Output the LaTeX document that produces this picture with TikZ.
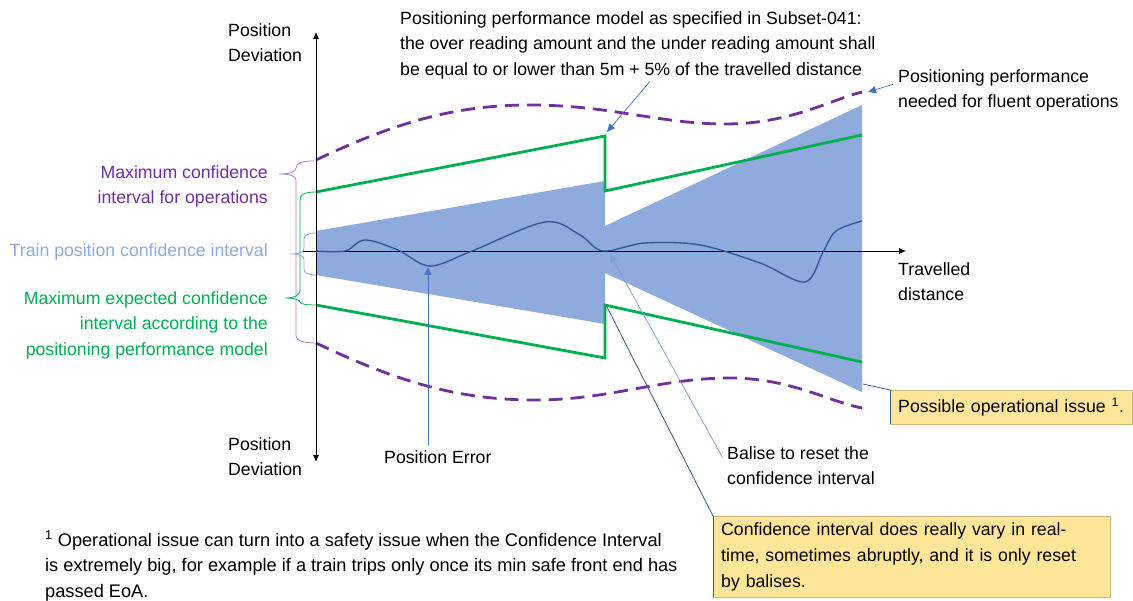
\documentclass[tikz,border=0pt]{standalone}
\usepackage{fontspec}
\setmainfont{Liberation Sans}
\usetikzlibrary{arrows.meta, positioning}

\definecolor{cifill}{HTML}{8FAADC}
\definecolor{perfgreen}{HTML}{00B050}
\definecolor{opspurple}{HTML}{7030A0}
\definecolor{errblue}{HTML}{2F5597}
\definecolor{arrowblue}{HTML}{4472C4}
\definecolor{barblue}{HTML}{3B5487}
\definecolor{notefill}{HTML}{FFE699}

\begin{document}
\begin{tikzpicture}[x=1pt, y=-1pt,
        txt/.style={font=\fontsize{17.7}{25.8}\selectfont, inner sep=0pt, align=left},
        perf/.style={draw=perfgreen, line width=2.8pt},
        ops/.style={draw=opspurple, line width=2.8pt, dash pattern=on 14pt off 8pt},
        brace/.style={line width=0.8pt},
        axis/.style={line width=0.8pt},
        callout/.style={draw=arrowblue, line width=0.7pt, -{Triangle[length=8pt, width=7pt]}},
        note/.style={txt, fill=notefill, draw=notefill!80!black, line width=0.4pt, inner xsep=8pt, inner ysep=5pt, anchor=north west}]
        \useasboundingbox (0,0) rectangle (1133,601);

        \fill[cifill] (316,231) -- (605,181) -- (605,324) -- (316,275) -- cycle;
        \fill[cifill] (605,226) -- (862,105) -- (862,392) -- (605,273) -- cycle;

        \draw[perf] (316,192) -- (605,136) -- (605,191) -- (862,135);
        \draw[perf] (316,305) -- (605,358) -- (605,305) -- (862,362);

        \draw[ops] (316,160) .. controls (400,120) and (460,105) .. (530,105) .. controls (610,105) and (660,124) .. (725,124) .. controls (790,124) and (830,100) .. (862,92);
        \draw[ops] (316,343) .. controls (400,383) and (460,400) .. (535,400) .. controls (610,400) and (660,378) .. (730,378) .. controls (790,378) and (830,402) .. (862,408);

        \draw[axis, -{Latex[length=7pt, width=6pt]}] (303,251) -- (906,251);
        \draw[axis, {Latex[length=7pt, width=6pt]}-{Latex[length=7pt, width=6pt]}] (316,462) -- (316,32);

        \draw[errblue, line width=1.3pt] plot[smooth, tension=0.55] coordinates {(316,251) (345,251) (365,240) (398,250) (430,266) (472,251) (545,222) (580,235) (603,251) (645,243) (700,245) (760,263) (805,282) (823,252) (836,231) (862,221)};

        \draw[brace, opspurple!60] (314,161) .. controls (302,161) and (296,163) .. (296,168) .. controls (296,172) and (290,174) .. (279,174) .. controls (290,174) and (296,176) .. (296,180) -- (296,336) .. controls (296,340) and (302,343) .. (316,343);
        \draw[brace, perfgreen] (316,192) .. controls (304,192) and (300,195) .. (300,200) -- (300,290) .. controls (300,295) and (295,298) .. (285,298) .. controls (295,298) and (300,300) .. (300,302) .. controls (300,304) and (306,305) .. (316,305);
        \draw[brace, cifill] (316,233) .. controls (308,233) and (304,235) .. (304,239) -- (304,248) .. controls (304,252) and (300,254) .. (290,254) .. controls (300,254) and (304,256) .. (304,260) -- (304,269) .. controls (304,273) and (308,275) .. (316,275);

        \node[txt, anchor=north west] (ytop) at (228,23) {Position\\Deviation};
        \node[txt, anchor=north west] (ybot) at (228,437) {Position\\Deviation};
        \node[txt, anchor=north west] (xlbl) at (898,262) {Travelled\\distance};
        \node[txt, anchor=north west] (model) at (400,11) {Positioning performance model as specified in Subset-041:\\the over reading amount and the under reading amount shall\\be equal to or lower than 5m + 5\% of the travelled distance};
        \node[txt, anchor=north west] (fluent) at (898,69) {Positioning performance\\needed for fluent operations};
        \node[txt, anchor=north west] (perr) at (384,450) {Position Error};
        \node[txt, anchor=north west] (balise) at (727,446) {Balise to reset the\\confidence interval};
        \node[txt, anchor=north east, align=right, text=opspurple] (opslbl) at (268,165) {Maximum confidence\\interval for operations};
        \node[txt, anchor=north east, align=right, text=cifill] (cilbl) at (268,243) {Train position confidence interval};
        \node[txt, anchor=north east, align=right, text=perfgreen] (perflbl) at (268,291) {Maximum expected confidence\\interval according to the\\positioning performance model};
        \node[txt, font=\fontsize{18.2}{25.6}\selectfont, anchor=north west] (fnote) at (45,531) {\textsuperscript{1} Operational issue can turn into a safety issue when the Confidence Interval\\is extremely big, for example if a train trips only once its min safe front end has\\passed EoA.};

        \node[note, text width=226pt, minimum height=34pt] (issue) at (890,390) {Possible operational issue \textsuperscript{1}.};
        \node[note, text width=381pt, inner ysep=6.5pt] (vary) at (713,516) {Confidence interval does really vary in real-\\time, sometimes abruptly, and it is only reset\\by balises.};
        \draw[line width=1pt, barblue] (issue.north west) -- (issue.south west);
        \draw[line width=1pt, barblue] (vary.north west) -- (vary.south west);

        \coordinate (kink) at (607,132);
        \coordinate (fluenttip) at (868,92);
        \coordinate (errtip) at (428,267);
        \coordinate (reset) at (610,254);
        \coordinate (jump) at (606,305);
        \coordinate (wide) at (863,384);
        \draw[callout] ([xshift=12pt, yshift=-2pt]model.south) -- (kink);
        \draw[callout] ([xshift=-5pt, yshift=6pt]fluent.west) -- (fluenttip);
        \draw[callout, shorten <=5pt] (perr.north -| errtip) -- (errtip);
        \draw[callout, arrowblue!70, shorten <=9pt] (balise.west) -- (reset);
        \draw[line width=0.8pt, barblue] (jump) -- (vary.north west);
        \draw[line width=0.8pt, arrowblue!80!black] (wide) -- (issue.north west);
\end{tikzpicture}
\end{document}
